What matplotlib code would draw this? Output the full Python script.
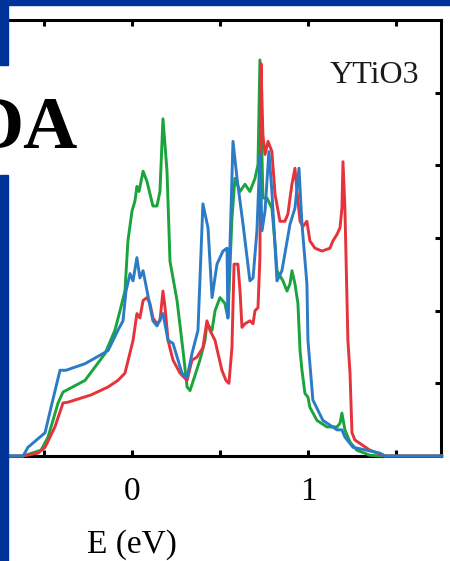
import numpy as np
import matplotlib
matplotlib.use('Agg')
import matplotlib.pyplot as plt
from matplotlib.patches import Rectangle

# densities of states (E in eV, arbitrary DOS units)
e_green = [-0.75, -0.619, -0.517, -0.477, -0.420, -0.392, -0.267, -0.153, -0.097, -0.068, -0.040, -0.023,
           0.000, 0.017, 0.028, 0.040, 0.063, 0.085, 0.119, 0.142, 0.159, 0.176, 0.199, 0.216, 0.256,
           0.290, 0.313, 0.330, 0.358, 0.386, 0.415, 0.426, 0.455, 0.472, 0.500, 0.528, 0.545, 0.568,
           0.585, 0.614, 0.642, 0.670, 0.699, 0.716, 0.727, 0.744, 0.767, 0.795, 0.813, 0.824, 0.858,
           0.881, 0.898, 0.909, 0.926, 0.943, 0.955, 0.966, 0.983, 1.000, 1.011, 1.051, 1.108, 1.165,
           1.182, 1.193, 1.210, 1.239, 1.278, 1.352, 1.409, 1.76]
dos_green = [0, 0, 0.08, 0.26, 0.73, 0.88, 1.04, 1.41, 1.73, 2.00, 2.27, 2.96,
             3.37, 3.51, 3.71, 3.64, 3.92, 3.78, 3.44, 3.44, 3.64, 4.64, 3.92, 2.68, 2.14,
             1.45, 0.95, 0.90, 1.11, 1.32, 1.59, 1.82, 1.73, 2.00, 2.18, 2.10, 1.90, 3.27,
             3.82, 3.64, 3.74, 3.64, 3.82, 4.01, 5.45, 3.55, 3.55, 3.41, 2.92, 2.55, 2.41,
             2.27, 2.37, 2.55, 2.37, 2.10, 1.45, 1.18, 0.86, 0.81, 0.67, 0.49, 0.40, 0.40,
             0.45, 0.59, 0.36, 0.19, 0.08, 0.01, 0, 0]

e_red = [-0.75, -0.619, -0.534, -0.494, -0.438, -0.392, -0.364, -0.233, -0.136, -0.080, -0.040, 0.006,
         0.028, 0.045, 0.063, 0.085, 0.102, 0.119, 0.142, 0.159, 0.176, 0.188, 0.205, 0.233, 0.273,
         0.313, 0.341, 0.369, 0.403, 0.426, 0.443, 0.472, 0.489, 0.511, 0.534, 0.551, 0.568, 0.580,
         0.602, 0.614, 0.625, 0.642, 0.670, 0.688, 0.699, 0.716, 0.727, 0.733, 0.744, 0.756, 0.773,
         0.795, 0.813, 0.841, 0.869, 0.886, 0.898, 0.909, 0.926, 0.938, 0.955, 0.972, 0.994, 1.011,
         1.040, 1.080, 1.125, 1.142, 1.165, 1.182, 1.193, 1.199, 1.210, 1.227, 1.239, 1.250, 1.267,
         1.352, 1.438, 1.76]
dos_red = [0, 0, 0.04, 0.12, 0.40, 0.73, 0.74, 0.84, 0.95, 1.04, 1.14, 1.59,
           1.96, 1.90, 2.14, 2.18, 2.10, 1.90, 1.82, 1.86, 2.27, 2.04, 1.59, 1.32, 1.14,
           1.04, 1.32, 1.36, 1.49, 1.86, 1.73, 1.59, 1.41, 1.18, 1.04, 1.00, 1.49, 2.64,
           2.64, 2.27, 1.77, 1.82, 1.86, 1.82, 2.00, 2.04, 2.73, 5.40, 4.42, 4.15, 4.33,
           4.19, 3.60, 3.23, 3.23, 3.33, 3.55, 3.74, 3.96, 3.64, 3.23, 3.16, 3.23, 2.96,
           2.86, 2.82, 2.86, 2.96, 3.05, 3.14, 3.41, 4.05, 3.41, 1.59, 1.14, 0.32, 0.22,
           0.08, 0, 0]

e_blue = [-0.75, -0.619, -0.591, -0.494, -0.460, -0.409, -0.375, -0.267, -0.136, -0.080, -0.051, -0.034,
          -0.011, 0.006, 0.028, 0.045, 0.063, 0.119, 0.142, 0.176, 0.205, 0.233, 0.284, 0.313, 0.341,
          0.375, 0.403, 0.432, 0.455, 0.483, 0.517, 0.540, 0.545, 0.574, 0.597, 0.631, 0.670, 0.688,
          0.710, 0.727, 0.739, 0.756, 0.778, 0.795, 0.824, 0.852, 0.898, 0.926, 0.949, 0.966, 0.994,
          1.000, 1.028, 1.085, 1.165, 1.193, 1.210, 1.256, 1.409, 1.438, 1.76]
dos_blue = [0, 0, 0.12, 0.32, 0.67, 1.18, 1.18, 1.27, 1.45, 1.73, 1.86, 2.27,
            2.51, 2.41, 2.73, 2.45, 2.55, 1.86, 1.79, 1.96, 1.59, 1.55, 1.14, 1.08, 1.41,
            1.73, 3.47, 3.14, 2.18, 2.64, 2.82, 2.86, 1.90, 4.33, 3.82, 3.19, 2.41, 2.45,
            3.10, 4.15, 3.10, 3.37, 4.19, 3.64, 2.41, 2.55, 3.19, 3.41, 3.96, 3.19, 2.37,
            1.59, 0.77, 0.49, 0.36, 0.36, 0.26, 0.12, 0.04, 0, 0]

x_ticks = [-0.5, 0, 0.5, 1, 1.5]
x_ticklabels = ['', '0', '', '1', '']
y_ticks = [1, 2, 3, 4, 5]

SLIDE_BLUE = '#003399'
W, H = 450, 561

plt.rcParams['font.family'] = ['Liberation Serif', 'DejaVu Serif']

fig = plt.figure(figsize=(4.5, 5.61), dpi=100)
ax = fig.add_axes([0, (H - 456) / H, 441 / W, (456 - 20) / H])

ax.plot(e_green, dos_green, color='#1ba33c', lw=2.1, zorder=3, clip_on=False)
ax.plot(e_red, dos_red, color='#e5333b', lw=2.1, zorder=3, clip_on=False)
ax.plot(e_blue, dos_blue, color='#2b7bc6', lw=2.1, zorder=3, clip_on=False)

ax.set_xlim(-0.75, 1.756)
ax.set_ylim(0, 6)

ax.spines['left'].set_visible(False)
for s in ['top', 'right', 'bottom']:
    ax.spines[s].set_linewidth(2.2)
    ax.spines[s].set_zorder(2)

ax.set_xticks(x_ticks)
ax.set_xticklabels(x_ticklabels)
ax.set_yticks(y_ticks)
ax.tick_params(axis='x', direction='in', top=True, bottom=True, length=4.5, width=2.2,
               labelsize=24, pad=15)
ax.tick_params(axis='y', direction='in', left=False, right=True, labelleft=False,
               labelright=False, length=4.5, width=2.2)

ax.annotate('E (eV)', xy=(0, 8 / H), xycoords=('data', 'figure fraction'),
            ha='center', va='baseline', fontsize=24, annotation_clip=False)
ax.text(330 / 441, (456 - 83) / 436, 'YTiO3', transform=ax.transAxes,
        fontsize=23, color='#1a1a1a', ha='left', va='baseline')

# slide decoration around the cropped chart
fig.patches.append(Rectangle((0, (H - 5) / H), 1, 5 / H, transform=fig.transFigure,
                             color=SLIDE_BLUE, zorder=10))
fig.patches.append(Rectangle((0, (H - 65) / H), 8 / W, 60 / H, transform=fig.transFigure,
                             color=SLIDE_BLUE, zorder=10))
fig.patches.append(Rectangle((0, 0), 8 / W, (H - 175) / H, transform=fig.transFigure,
                             color=SLIDE_BLUE, zorder=10))
# slide title, only its tail shows in the crop
fig.text(78 / W, (H - 148) / H, 'DA', fontsize=54, fontweight='bold', ha='right',
         va='baseline', color='black', zorder=11)

fig.savefig('out.png', dpi=100)
